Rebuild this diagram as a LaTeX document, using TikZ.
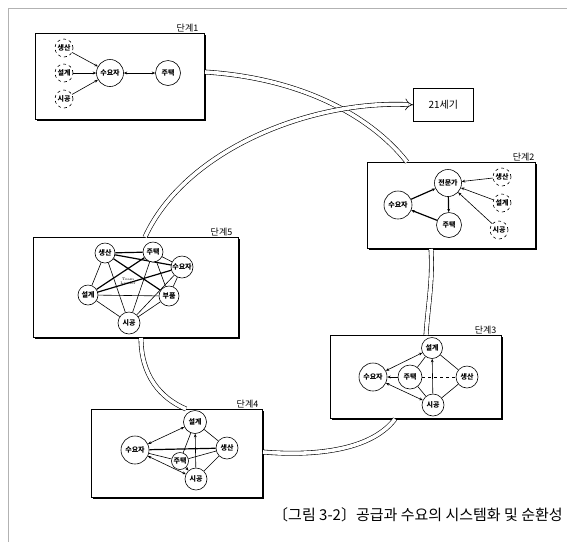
\documentclass[tikz,border=0pt]{standalone}
\usepackage{fontspec}
\newfontfamily\cjk{Noto Sans CJK KR}
\usetikzlibrary{arrows.meta,shadows}
\pgfdeclarelayer{boxes}
\pgfdeclarelayer{edges}
\pgfsetlayers{boxes,edges,main}

\begin{document}
\begin{tikzpicture}[x=1pt, y=-1pt,
    >={Stealth[length=3.4pt,width=2.8pt]},
    every path/.style={semithick},
    actor/.style={circle, draw, fill=white, inner sep=0pt, minimum size=#1,
      font=\cjk\bfseries\fontsize{7}{7}\selectfont},
    actor/.default=24,
    outsider/.style={actor=18, dashed},
    stagebox/.style={draw, fill=white, semithick, anchor=north west, inner sep=0pt,
      drop shadow={shadow xshift=1.4pt, shadow yshift=-1.4pt, fill=black, opacity=1}},
    stagelabel/.style={anchor=south east, inner sep=1pt,
      font=\cjk\fontsize{9}{9}\selectfont},
    band/.style={double, double distance=3.6pt, line width=0.6pt},
    heavy/.style={line width=1.2pt}]
  \useasboundingbox (0,0) rectangle (567,542);
  \draw[gray!60, thin] (8,542) -- (8,8) -- (567,8);

  % stage boxes
  \begin{pgfonlayer}{boxes}
    \node[stagebox, minimum width=169pt, minimum height=86pt] (box1) at (35,33) {};
    \node[stagebox, minimum width=168pt, minimum height=86pt] (box2) at (367,162) {};
    \node[stagebox, minimum width=171pt, minimum height=83pt] (box3) at (330,335) {};
    \node[stagebox, minimum width=171pt, minimum height=88pt] (box4) at (91,409) {};
    \node[stagebox, minimum width=205pt, minimum height=100pt] (box5) at (33,237) {};
  \end{pgfonlayer}
  \node[stagelabel] (lab1) at ([xshift=-5pt]box1.north east) {단계1};
  \node[stagelabel] (lab2) at (box2.north east) {단계2};
  \node[stagelabel] (lab3) at ([xshift=-4pt]box3.north east) {단계3};
  \node[stagelabel] (lab4) at ([xshift=-3pt]box4.north east) {단계4};
  \node[stagelabel] (lab5) at ([xshift=-5pt]box5.north east) {단계5};
  \node[draw, semithick, minimum width=60pt, minimum height=33pt, anchor=north west,
    font=\cjk\fontsize{10}{10}\selectfont] (era) at (413,88) {21세기};

  % ring
  \coordinate (r1a) at (205,72);   \coordinate (r1b) at (407,162);
  \coordinate (r2a) at (431,249);  \coordinate (r2b) at (426,335);
  \coordinate (r3a) at (395,419);  \coordinate (r3b) at (263,452);
  \coordinate (r5a) at (141,338);  \coordinate (r5b) at (186,409);
  \coordinate (r6a) at (145,237);
  \draw[band] (r1a) .. controls (300,78) and (370,115) .. (r1b);
  \draw[band] (r2a) .. controls (433,280) and (428,305) .. (r2b);
  \draw[band] (r3a) .. controls (370,452) and (310,456) .. (r3b);
  \draw[band] (r5a) .. controls (141,375) and (160,398) .. (r5b);
  \draw[band, -{Implies}] (r6a) .. controls (185,150) and (310,100) .. (era.west);

  % stage 1
  \node[outsider] (s1prod) at (64,48) {생산};
  \node[outsider] (s1design) at (64,73) {설계};
  \node[outsider] (s1build) at (64,99) {시공};
  \node[actor=27] (s1user) at (110,73) {수요자};
  \node[actor=25] (s1house) at (168,73) {주택};
  \draw[->] (s1prod) -- (s1user);
  \draw[->] (s1design) -- (s1user);
  \draw[->] (s1build) -- (s1user);
  \draw[<->] (s1user) -- (s1house);

  % stage 2
  \node[actor=27] (s2pro) at (448,183) {전문가};
  \node[actor=28] (s2user) at (398,205) {수요자};
  \node[actor=25] (s2house) at (449,225) {주택};
  \node[outsider] (s2prod) at (502,177) {생산};
  \node[outsider] (s2design) at (502,203) {설계};
  \node[outsider] (s2build) at (499,230) {시공};
  \draw[->, heavy] (s2user) -- (s2pro);
  \draw[->, heavy] (s2pro) -- (s2house);
  \draw[->, heavy] (s2house) -- (s2user);
  \foreach \o in {prod,design,build}
    \draw[->] (s2\o) -- (s2pro);

  % stage 3
  \node[actor=21] (s3design) at (432,348) {설계};
  \node[actor=28] (s3user) at (373,377) {수요자};
  \node[actor=24] (s3house) at (410,377) {주택};
  \node[actor=22] (s3prod) at (467,377) {생산};
  \node[actor=22] (s3build) at (433,405) {시공};
  \begin{pgfonlayer}{edges}
    \draw[<->] (s3user) -- (s3design);
    \draw[->] (s3house) -- (s3user);
    \draw[<->] (s3user) -- (s3build);
    \draw[->] (s3build) -- (s3design);
    \draw (s3house) -- (s3design);
    \draw (s3house) -- (s3build);
    \draw (s3design) -- (s3prod);
    \draw (s3prod) -- (s3build);
    \draw[dashed] (s3house) -- (s3prod);
  \end{pgfonlayer}

  % stage 4
  \node[actor=23] (s4design) at (195,422) {설계};
  \node[actor=28] (s4user) at (135,450) {수요자};
  \node[actor=22] (s4prod) at (227,448) {생산};
  \node[actor=17] (s4house) at (180,461) {주택};
  \node[actor=22] (s4build) at (196,479) {시공};
  \begin{pgfonlayer}{edges}
    \draw[<->] (s4user) -- (s4design);
    \draw[heavy] (s4user) -- (s4prod);
    \draw (s4user) -- (s4house);
    \draw[<->] (s4user) -- (s4build);
    \draw[->] (s4build) -- (s4design);
    \draw (s4design) -- (s4house);
    \draw (s4design) -- (s4prod);
    \draw (s4prod) -- (s4house);
    \draw (s4prod) -- (s4build);
    \draw[->] (s4house) -- (s4build);
  \end{pgfonlayer}

  % stage 5
  \node[actor=20] (s5prod) at (105,253) {생산};
  \node[actor=20] (s5house) at (153,252) {주택};
  \node[actor=22] (s5user) at (182,267) {수요자};
  \node[actor=20] (s5design) at (88,295) {설계};
  \node[actor=20] (s5parts) at (169,296) {부품};
  \node[actor=22] (s5build) at (129,323) {시공};
  \node[font=\fontsize{3.8}{4}\selectfont, align=center, inner sep=0pt] (s5lead)
    at (128,281) {Team\\Leader};
  \begin{pgfonlayer}{edges}
    \foreach \a/\b in {prod/design, prod/build, house/user, house/build,
        house/parts, user/parts, user/build, design/parts, design/build,
        parts/build}
      \draw (s5\a) -- (s5\b);
    \foreach \a/\b in {prod/house, prod/user, prod/parts, house/design, user/design}
      \draw[heavy] (s5\a) -- (s5\b);
  \end{pgfonlayer}

  \node[anchor=east, font=\cjk\fontsize{15}{15}\selectfont, inner sep=0pt] (caption)
    at (563,515) {〔그림 3-2〕공급과 수요의 시스템화 및 순환성};
\end{tikzpicture}
\end{document}
